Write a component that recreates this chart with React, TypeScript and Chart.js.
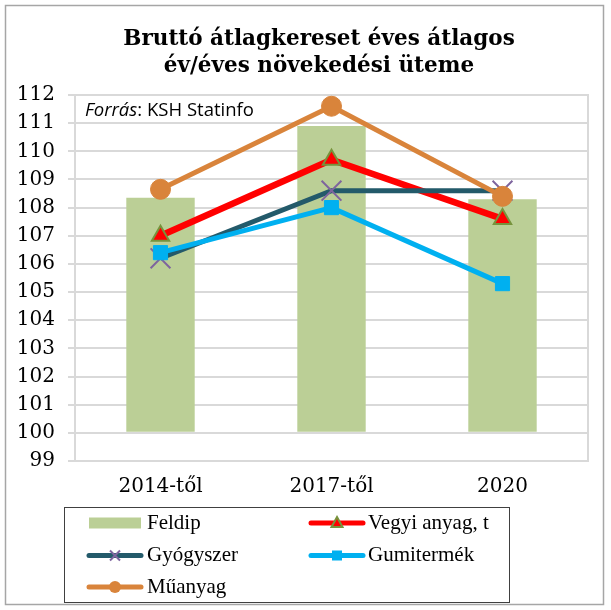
import React, { useEffect, useRef } from 'react';
import { Chart, registerables } from 'chart.js';

Chart.register(...registerables);

const titleLines = ['Bruttó átlagkereset éves átlagos', 'év/éves növekedési üteme'];
const sourceItalic = 'Forrás';
const sourceRest = ': KSH Statinfo';
const categories = ['2014-től', '2017-től', '2020'];
const feldip = [108.35, 110.9, 108.3];
const vegyiAnyag = [107.0, 109.7, 107.6];
const gyogyszer = [106.2, 108.6, 108.6];
const gumitermek = [106.4, 108.0, 105.3];
const muanyag = [108.65, 111.6, 108.4];
const yMin = 99;
const yMax = 112;
const barBase = 100;

const decorPlugin = {
  id: 'decor',
  beforeDraw(chart: any) {
    const ctx = chart.ctx;
    ctx.save();
    ctx.fillStyle = '#ffffff';
    ctx.fillRect(0, 0, chart.width, chart.height);
    ctx.strokeStyle = '#a6a6a6';
    ctx.lineWidth = 1.5;
    ctx.strokeRect(5.5, 5.5, 598, 599);
    ctx.restore();
  },
  beforeDatasetsDraw(chart: any) {
    const ctx = chart.ctx;
    const a = chart.chartArea;
    ctx.save();
    ctx.strokeStyle = '#d9d9d9';
    ctx.lineWidth = 2;
    ctx.strokeRect(a.left, a.top, a.right - a.left, a.bottom - a.top);
    ctx.restore();
  },
  afterDraw(chart: any) {
    const ctx = chart.ctx;
    ctx.save();
    ctx.fillStyle = '#000000';
    ctx.font = "bold 21.5px 'DejaVu Serif'";
    ctx.textAlign = 'center';
    ctx.textBaseline = 'middle';
    titleLines.forEach((t, i) => ctx.fillText(t, 319, 39 + i * 27));
    ctx.textAlign = 'left';
    ctx.font = "italic 18.5px 'Open Sans'";
    ctx.fillText(sourceItalic, 85, 111);
    const w = ctx.measureText(sourceItalic).width;
    ctx.font = "18.5px 'Open Sans'";
    ctx.fillText(sourceRest, 85 + w, 111);
    ctx.strokeStyle = '#404040';
    ctx.lineWidth = 1;
    ctx.strokeRect(64.5, 507.5, 445, 95);
    const colX = [87, 309];
    const textX = [147, 368];
    const rowY = [523, 555.5, 587];
    chart.data.datasets.forEach((ds: any, i: number) => {
      const col = i % 2;
      const row = Math.floor(i / 2);
      const x0 = colX[col];
      const y = rowY[row];
      if (ds.type === 'bar' || !ds.type) {
        ctx.fillStyle = ds.backgroundColor;
        ctx.fillRect(x0 + 2, y - 5.5, 52, 11);
      } else {
        ctx.strokeStyle = ds.borderColor;
        ctx.lineWidth = 5;
        ctx.lineCap = 'round';
        ctx.beginPath();
        ctx.moveTo(x0 + 2, y);
        ctx.lineTo(x0 + 54, y);
        ctx.stroke();
        ctx.lineCap = 'butt';
        const cx = x0 + 28;
        ctx.fillStyle = ds.pointBackgroundColor;
        ctx.strokeStyle = ds.pointBorderColor;
        ctx.lineWidth = 2;
        if (ds.pointStyle === 'circle') {
          ctx.beginPath();
          ctx.arc(cx, y, 6, 0, Math.PI * 2);
          ctx.fill();
        } else if (ds.pointStyle === 'rect') {
          ctx.fillRect(cx - 5, y - 5, 10, 10);
        } else if (ds.pointStyle === 'triangle') {
          ctx.beginPath();
          ctx.moveTo(cx, y - 6);
          ctx.lineTo(cx + 5.5, y + 4);
          ctx.lineTo(cx - 5.5, y + 4);
          ctx.closePath();
          ctx.fill();
          ctx.stroke();
        } else if (ds.pointStyle === 'crossRot') {
          ctx.beginPath();
          ctx.moveTo(cx - 5, y - 5);
          ctx.lineTo(cx + 5, y + 5);
          ctx.moveTo(cx + 5, y - 5);
          ctx.lineTo(cx - 5, y + 5);
          ctx.stroke();
        }
      }
      ctx.fillStyle = '#000000';
      ctx.font = "21px 'Liberation Serif'";
      ctx.textAlign = 'left';
      ctx.textBaseline = 'middle';
      ctx.fillText(ds.label, textX[col], y);
    });
    ctx.restore();
  },
};

export default function App() {
  const canvasRef = useRef<HTMLCanvasElement | null>(null);

  useEffect(() => {
    if (!canvasRef.current) return;
    const chart = new Chart(canvasRef.current, {
      type: 'bar',
      data: {
        labels: categories,
        datasets: [
          {
            type: 'bar',
            label: 'Feldip',
            data: feldip,
            base: barBase,
            backgroundColor: '#bbcf96',
            borderWidth: 0,
            barPercentage: 0.4,
            categoryPercentage: 1,
            order: 5,
          } as any,
          {
            type: 'line',
            label: 'Vegyi anyag, t',
            data: vegyiAnyag,
            borderColor: '#ff0000',
            borderWidth: 6.5,
            pointStyle: 'triangle',
            pointRadius: 10,
            pointBackgroundColor: '#ff0000',
            pointBorderColor: '#77933c',
            pointBorderWidth: 2,
            tension: 0,
            order: 4,
          },
          {
            type: 'line',
            label: 'Gyógyszer',
            data: gyogyszer,
            borderColor: '#235a6a',
            borderWidth: 5,
            pointStyle: 'crossRot',
            pointRadius: 14,
            pointBackgroundColor: '#7e649e',
            pointBorderColor: '#7e649e',
            pointBorderWidth: 2,
            tension: 0,
            order: 3,
          },
          {
            type: 'line',
            label: 'Gumitermék',
            data: gumitermek,
            borderColor: '#00b0f0',
            borderWidth: 5,
            pointStyle: 'rect',
            pointRadius: 10,
            pointBackgroundColor: '#00b0f0',
            pointBorderColor: '#00b0f0',
            pointBorderWidth: 1,
            tension: 0,
            order: 2,
          },
          {
            type: 'line',
            label: 'Műanyag',
            data: muanyag,
            borderColor: '#d9843b',
            borderWidth: 5,
            pointStyle: 'circle',
            pointRadius: 10,
            pointBackgroundColor: '#d9843b',
            pointBorderColor: '#d9843b',
            pointBorderWidth: 1,
            tension: 0,
            order: 1,
          },
        ],
      },
      options: {
        responsive: false,
        animation: false,
        devicePixelRatio: 1,
        layout: { padding: { left: 0, top: 95, right: 23, bottom: 105 } },
        plugins: {
          legend: { display: false },
          title: { display: false },
          tooltip: { enabled: false },
        },
        scales: {
          x: {
            grid: { display: false, drawTicks: false },
            border: { display: false },
            ticks: {
              color: '#000000',
              font: { family: "'DejaVu Serif'", size: 20 },
              padding: 14,
              maxRotation: 0,
            },
            afterFit: (s: any) => {
              s.height = 44;
            },
          },
          y: {
            min: yMin,
            max: yMax,
            grid: { color: '#d9d9d9', lineWidth: 2, tickLength: 7, drawTicks: true },
            border: { display: true, color: '#d9d9d9', width: 2 },
            ticks: {
              stepSize: 1,
              color: '#000000',
              font: { family: "'DejaVu Serif'", size: 20 },
              padding: 13,
            },
            afterFit: (s: any) => {
              s.width = 75;
            },
          },
        },
      },
      plugins: [decorPlugin],
    });
    return () => chart.destroy();
  }, []);

  return (
    <div style={{ position: 'absolute', left: 0, top: 0, width: 611, height: 610 }}>
      <canvas ref={canvasRef} width={611} height={610} style={{ display: 'block' }} />
    </div>
  );
}
